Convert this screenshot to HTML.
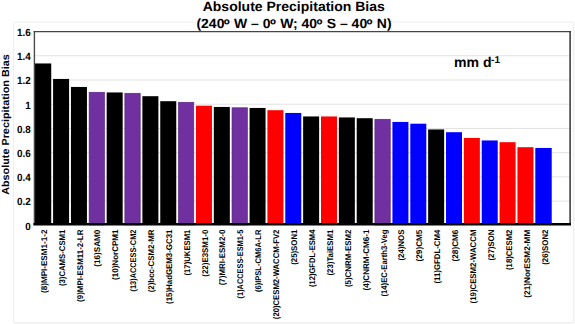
<!DOCTYPE html>
<html><head><meta charset="utf-8"><title>Absolute Precipitation Bias</title>
<style>
html,body{margin:0;padding:0;background:#fff;}
body{width:575px;height:324px;overflow:hidden;}
svg{display:block;}
text{font-family:"Liberation Sans",sans-serif;font-weight:bold;fill:#000;text-rendering:geometricPrecision;}
</style></head><body>
<svg width="575" height="324" viewBox="0 0 575 324">
<rect x="0" y="0" width="575" height="324" fill="#ffffff"/>
<rect x="13" y="21.5" width="562" height="303" rx="3" ry="3" fill="#f7f7f7"/>
<rect x="13.5" y="22" width="559.8" height="300.4" rx="1.5" ry="1.5" fill="#ffffff" stroke="#efefef" stroke-width="1"/>

<line x1="34.3" x2="570.1" y1="201.16" y2="201.16" stroke="#e2e2e2" stroke-width="1"/>
<line x1="34.3" x2="570.1" y1="176.93" y2="176.93" stroke="#e2e2e2" stroke-width="1"/>
<line x1="34.3" x2="570.1" y1="152.69" y2="152.69" stroke="#e2e2e2" stroke-width="1"/>
<line x1="34.3" x2="570.1" y1="128.45" y2="128.45" stroke="#e2e2e2" stroke-width="1"/>
<line x1="34.3" x2="570.1" y1="104.21" y2="104.21" stroke="#e2e2e2" stroke-width="1"/>
<line x1="34.3" x2="570.1" y1="79.97" y2="79.97" stroke="#e2e2e2" stroke-width="1"/>
<line x1="34.3" x2="570.1" y1="55.74" y2="55.74" stroke="#e2e2e2" stroke-width="1"/>
<rect x="35.00" y="63.45" width="16.23" height="161.45" fill="#000000"/>
<rect x="53.09" y="78.95" width="16.00" height="145.95" fill="#000000"/>
<rect x="70.95" y="86.95" width="16.00" height="137.95" fill="#000000"/>
<rect x="89.16" y="92.30" width="15.30" height="132.60" fill="#7030a0" stroke="#5b2487" stroke-width="0.7"/>
<rect x="106.67" y="92.45" width="16.00" height="132.45" fill="#000000"/>
<rect x="124.88" y="93.30" width="15.30" height="131.60" fill="#7030a0" stroke="#5b2487" stroke-width="0.7"/>
<rect x="142.39" y="96.20" width="16.00" height="128.70" fill="#000000"/>
<rect x="160.25" y="101.20" width="16.00" height="123.70" fill="#000000"/>
<rect x="178.46" y="102.30" width="15.30" height="122.60" fill="#7030a0" stroke="#5b2487" stroke-width="0.7"/>
<rect x="195.97" y="105.70" width="16.00" height="119.20" fill="#ff0000"/>
<rect x="213.83" y="106.95" width="16.00" height="117.95" fill="#000000"/>
<rect x="232.04" y="107.80" width="15.30" height="117.10" fill="#7030a0" stroke="#5b2487" stroke-width="0.7"/>
<rect x="249.55" y="107.95" width="16.00" height="116.95" fill="#000000"/>
<rect x="267.41" y="110.20" width="16.00" height="114.70" fill="#ff0000"/>
<rect x="285.27" y="112.95" width="16.00" height="111.95" fill="#0000ff"/>
<rect x="303.13" y="116.45" width="16.00" height="108.45" fill="#000000"/>
<rect x="320.99" y="116.45" width="16.00" height="108.45" fill="#ff0000"/>
<rect x="338.85" y="117.45" width="16.00" height="107.45" fill="#000000"/>
<rect x="356.71" y="118.20" width="16.00" height="106.70" fill="#000000"/>
<rect x="374.92" y="119.30" width="15.30" height="105.60" fill="#7030a0" stroke="#5b2487" stroke-width="0.7"/>
<rect x="392.43" y="121.95" width="16.00" height="102.95" fill="#0000ff"/>
<rect x="410.29" y="123.70" width="16.00" height="101.20" fill="#0000ff"/>
<rect x="428.15" y="129.45" width="16.00" height="95.45" fill="#000000"/>
<rect x="446.01" y="132.20" width="16.00" height="92.70" fill="#0000ff"/>
<rect x="463.87" y="137.95" width="16.00" height="86.95" fill="#ff0000"/>
<rect x="481.73" y="140.45" width="16.00" height="84.45" fill="#0000ff"/>
<rect x="499.59" y="142.20" width="16.00" height="82.70" fill="#ff0000"/>
<rect x="517.45" y="147.20" width="16.00" height="77.70" fill="#ff0000"/>
<rect x="535.31" y="147.95" width="16.40" height="76.95" fill="#0000ff"/>
<line x1="33.55" x2="570.85" y1="31.6" y2="31.6" stroke="#454545" stroke-width="1.15"/>
<line x1="34.4" x2="34.4" y1="31.3" y2="224.9" stroke="#4a4a4a" stroke-width="1.4"/>
<line x1="570.1" x2="570.1" y1="31.3" y2="224.9" stroke="#2c2c2c" stroke-width="1.45"/>
<line x1="33.4" x2="571.0" y1="224.25" y2="224.25" stroke="#000" stroke-width="2.6"/>
<text transform="translate(30.75,229.50) scale(0.95,1)" font-size="10.4" text-anchor="end">0</text>
<text transform="translate(30.75,205.30) scale(0.95,1)" font-size="10.4" text-anchor="end">0.2</text>
<text transform="translate(30.75,181.10) scale(0.95,1)" font-size="10.4" text-anchor="end">0.4</text>
<text transform="translate(30.75,156.90) scale(0.95,1)" font-size="10.4" text-anchor="end">0.6</text>
<text transform="translate(30.75,132.70) scale(0.95,1)" font-size="10.4" text-anchor="end">0.8</text>
<text transform="translate(30.75,108.50) scale(0.95,1)" font-size="10.4" text-anchor="end">1</text>
<text transform="translate(30.75,84.30) scale(0.95,1)" font-size="10.4" text-anchor="end">1.2</text>
<text transform="translate(30.75,60.10) scale(0.95,1)" font-size="10.4" text-anchor="end">1.4</text>
<text transform="translate(30.75,35.90) scale(0.95,1)" font-size="10.4" text-anchor="end">1.6</text>
<text transform="translate(9.4,124.5) rotate(-90) scale(1.062,1)" font-size="10.2" text-anchor="middle">Absolute Precipitation Bias</text>
<text transform="translate(293.75,10.8) scale(1.05,1)" font-size="13.35" text-anchor="middle">Absolute Precipitation Bias</text>
<text transform="translate(294.0,27.5) scale(1.046,1)" font-size="13.35" text-anchor="middle">(240<tspan font-size="15.6" dy="2.35" dx="-0.6">º</tspan><tspan dy="-2.35" dx="0.4"> </tspan>W – 0<tspan font-size="15.6" dy="2.35" dx="-0.6">º</tspan><tspan dy="-2.35" dx="0.4"> </tspan>W; 40<tspan font-size="15.6" dy="2.35" dx="-0.6">º</tspan><tspan dy="-2.35" dx="0.4"> </tspan>S – 40<tspan font-size="15.6" dy="2.35" dx="-0.6">º</tspan><tspan dy="-2.35" dx="0.4"> </tspan>N)</text>
<text x="454" y="67.45" font-size="14.07">mm d<tspan font-size="10" dy="-4.0" dx="-0.4">-1</tspan></text>
<text transform="translate(46.83,229.6) rotate(-90)" font-size="8.3" text-anchor="end" textLength="63.4" lengthAdjust="spacingAndGlyphs">(8)MPI-ESM1-1-2</text>
<text transform="translate(64.69,229.6) rotate(-90)" font-size="8.3" text-anchor="end" textLength="56.5" lengthAdjust="spacingAndGlyphs">(3)CAMS-CSM1</text>
<text transform="translate(82.55,229.6) rotate(-90)" font-size="8.3" text-anchor="end" textLength="72.3" lengthAdjust="spacingAndGlyphs">(9)MPI-ESM11-2-LR</text>
<text transform="translate(100.41,229.6) rotate(-90)" font-size="8.3" text-anchor="end" textLength="37.2" lengthAdjust="spacingAndGlyphs">(16)SAM0</text>
<text transform="translate(118.27,229.6) rotate(-90)" font-size="8.3" text-anchor="end" textLength="50.3" lengthAdjust="spacingAndGlyphs">(10)NorCPM1</text>
<text transform="translate(136.13,229.6) rotate(-90)" font-size="8.3" text-anchor="end" textLength="61.9" lengthAdjust="spacingAndGlyphs">(13)ACCESS-CM2</text>
<text transform="translate(153.99,229.6) rotate(-90)" font-size="8.3" text-anchor="end" textLength="62.7" lengthAdjust="spacingAndGlyphs">(2)bcc-CSM2-MR</text>
<text transform="translate(171.85,229.6) rotate(-90)" font-size="8.3" text-anchor="end" textLength="74.3" lengthAdjust="spacingAndGlyphs">(15)HadGEM3-GC31</text>
<text transform="translate(189.71,229.6) rotate(-90)" font-size="8.3" text-anchor="end" textLength="45.9" lengthAdjust="spacingAndGlyphs">(17)UKESM1</text>
<text transform="translate(207.57,229.6) rotate(-90)" font-size="8.3" text-anchor="end" textLength="47.1" lengthAdjust="spacingAndGlyphs">(22)E3SM1-0</text>
<text transform="translate(225.43,229.6) rotate(-90)" font-size="8.3" text-anchor="end" textLength="55.7" lengthAdjust="spacingAndGlyphs">(7)MRI-ESM2-0</text>
<text transform="translate(243.29,229.6) rotate(-90)" font-size="8.3" text-anchor="end" textLength="68.8" lengthAdjust="spacingAndGlyphs">(1)ACCESS-ESM1-5</text>
<text transform="translate(261.15,229.6) rotate(-90)" font-size="8.3" text-anchor="end" textLength="62.4" lengthAdjust="spacingAndGlyphs">(6)IPSL-CM6A-LR</text>
<text transform="translate(279.01,229.6) rotate(-90)" font-size="8.3" text-anchor="end" textLength="89.6" lengthAdjust="spacingAndGlyphs">(20)CESM2-WACCM-FV2</text>
<text transform="translate(296.87,229.6) rotate(-90)" font-size="8.3" text-anchor="end" textLength="35.2" lengthAdjust="spacingAndGlyphs">(25)SON1</text>
<text transform="translate(314.81,229.6) rotate(-90)" font-size="8.3" text-anchor="end" textLength="57.5" lengthAdjust="spacingAndGlyphs">(12)GFDL-ESM4</text>
<text transform="translate(332.74,229.6) rotate(-90)" font-size="8.3" text-anchor="end" textLength="45.9" lengthAdjust="spacingAndGlyphs">(23)TaiESM1</text>
<text transform="translate(350.68,229.6) rotate(-90)" font-size="8.3" text-anchor="end" textLength="57.5" lengthAdjust="spacingAndGlyphs">(5)CNRM-ESM2</text>
<text transform="translate(368.61,229.6) rotate(-90)" font-size="8.3" text-anchor="end" textLength="60.9" lengthAdjust="spacingAndGlyphs">(4)CNRM-CM6-1</text>
<text transform="translate(386.55,229.6) rotate(-90)" font-size="8.3" text-anchor="end" textLength="66.9" lengthAdjust="spacingAndGlyphs">(14)EC-Earth3-Veg</text>
<text transform="translate(404.48,229.6) rotate(-90)" font-size="8.3" text-anchor="end" textLength="31.0" lengthAdjust="spacingAndGlyphs">(24)NOS</text>
<text transform="translate(422.42,229.6) rotate(-90)" font-size="8.3" text-anchor="end" textLength="31.8" lengthAdjust="spacingAndGlyphs">(29)CM5</text>
<text transform="translate(440.35,229.6) rotate(-90)" font-size="8.3" text-anchor="end" textLength="54.0" lengthAdjust="spacingAndGlyphs">(11)GFDL-CM4</text>
<text transform="translate(458.29,229.6) rotate(-90)" font-size="8.3" text-anchor="end" textLength="31.8" lengthAdjust="spacingAndGlyphs">(28)CM6</text>
<text transform="translate(476.22,229.6) rotate(-90)" font-size="8.3" text-anchor="end" textLength="73.8" lengthAdjust="spacingAndGlyphs">(19)CESM2-WACCM</text>
<text transform="translate(494.16,229.6) rotate(-90)" font-size="8.3" text-anchor="end" textLength="31.0" lengthAdjust="spacingAndGlyphs">(27)SON</text>
<text transform="translate(512.09,229.6) rotate(-90)" font-size="8.3" text-anchor="end" textLength="40.4" lengthAdjust="spacingAndGlyphs">(18)CESM2</text>
<text transform="translate(530.03,229.6) rotate(-90)" font-size="8.3" text-anchor="end" textLength="68.1" lengthAdjust="spacingAndGlyphs">(21)NorESM2-MM</text>
<text transform="translate(547.96,229.6) rotate(-90)" font-size="8.3" text-anchor="end" textLength="35.2" lengthAdjust="spacingAndGlyphs">(26)SON2</text>
</svg></body></html>
